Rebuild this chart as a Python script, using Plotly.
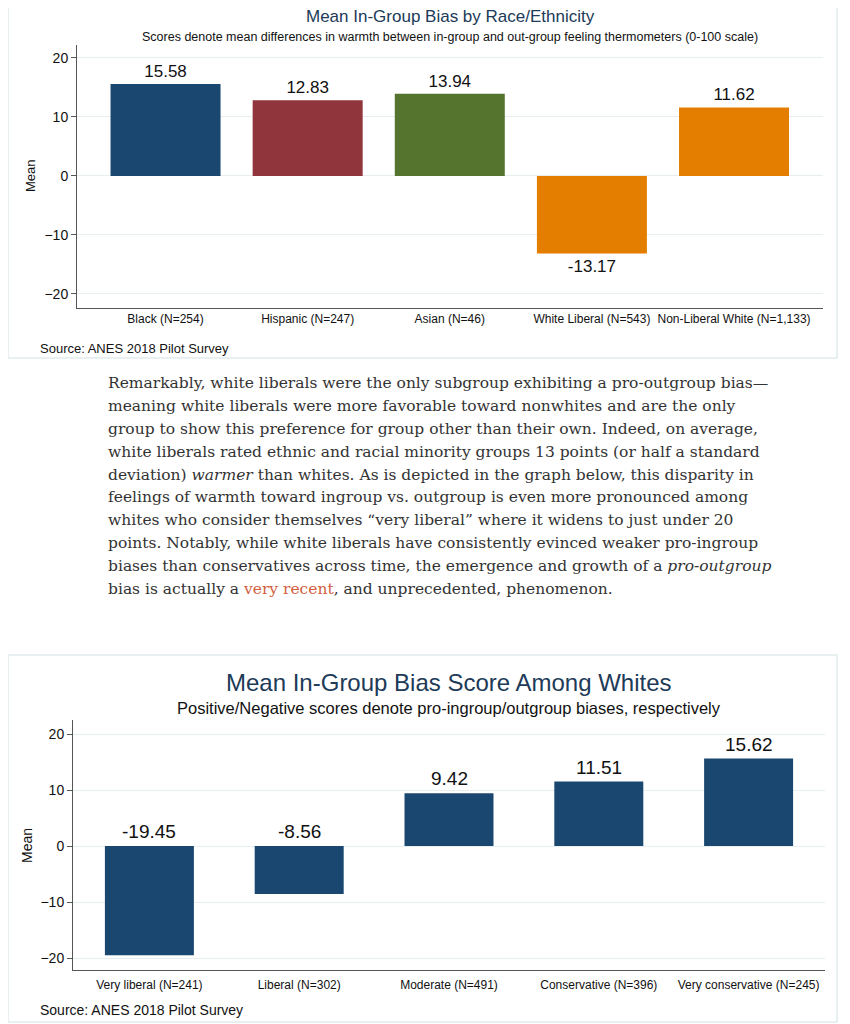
import plotly.graph_objects as go

# the page puts the figure 8px in from the top-left corner
OFF = 8
W, H = 850 - OFF, 1024 - OFF

# ---- data ----
race_groups = ["Black (N=254)", "Hispanic (N=247)", "Asian (N=46)",
               "White Liberal (N=543)", "Non-Liberal White (N=1,133)"]
race_means = [15.58, 12.83, 13.94, -13.17, 11.62]
race_colors = ["#1a476f", "#90353b", "#55752f", "#e37e00", "#e37e00"]

ideo_groups = ["Very liberal (N=241)", "Liberal (N=302)", "Moderate (N=491)",
               "Conservative (N=396)", "Very conservative (N=245)"]
ideo_means = [-19.45, -8.56, 9.42, 11.51, 15.62]

mean_ticks = [-20, -10, 0, 10, 20]

paragraph_lines = [
    "Remarkably, white liberals were the only subgroup exhibiting a pro-outgroup bias—",
    "meaning white liberals were more favorable toward nonwhites and are the only",
    "group to show this preference for group other than their own. Indeed, on average,",
    "white liberals rated ethnic and racial minority groups 13 points (or half a standard",
    "deviation) <i>warmer</i> than whites. As is depicted in the graph below, this disparity in",
    "feelings of warmth toward ingroup vs. outgroup is even more pronounced among",
    "whites who consider themselves “very liberal” where it widens to just under 20",
    "points. Notably, while white liberals have consistently evinced weaker pro-ingroup",
    "biases than conservatives across time, the emergence and growth of a <i>pro-outgroup</i>",
    "bias is actually a <span style='color:#d2603f'>very recent</span>, and unprecedented, phenomenon.",
]

SANS = "Liberation Sans, Arial, sans-serif"
SERIF = "DejaVu Serif, Georgia, serif"
TITLE_COL = "#203a58"
AXIS_COL = "#555555"
GRID_COL = "#e6eef0"


def px(x):
    return (x - OFF) / W


def py(y):
    return 1 - (y - OFF) / H


fig = go.Figure()

# top chart: bias by race/ethnicity
fig.add_trace(go.Bar(
    x=race_groups, y=race_means,
    marker=dict(color=race_colors, line=dict(width=0)),
    width=0.774,
    text=[f"{v:.2f}" for v in race_means],
    textposition="outside",
    textfont=dict(size=17, color="#111111", family=SANS),
    cliponaxis=False,
    xaxis="x", yaxis="y",
))

# bottom chart: bias among whites by ideology
fig.add_trace(go.Bar(
    x=ideo_groups, y=ideo_means,
    marker=dict(color="#1a476f", line=dict(width=0)),
    width=0.594,
    xaxis="x2", yaxis="y2",
))

xcommon = dict(showline=True, linecolor=AXIS_COL, linewidth=1, ticks="",
               showgrid=False, zeroline=False, fixedrange=True,
               tickfont=dict(size=12, color="#111111", family=SANS))
ycommon = dict(tickvals=mean_ticks, ticks="outside", ticklen=5, tickcolor=AXIS_COL,
               showline=True, linecolor=AXIS_COL, linewidth=1,
               showgrid=True, gridcolor=GRID_COL, gridwidth=1, zeroline=False,
               fixedrange=True, tickfont=dict(size=14, color="#111111", family=SANS))

fig.update_layout(
    width=W, height=H,
    margin=dict(l=0, r=0, t=0, b=0),
    paper_bgcolor="white", plot_bgcolor="white",
    showlegend=False,
    font=dict(family=SANS, color="#111111"),
    xaxis=dict(domain=[px(77), px(823)], anchor="y", range=[-0.623, 4.626], **xcommon),
    yaxis=dict(domain=[py(308), py(45)], anchor="x", range=[-22.4, 22.2], **ycommon),
    xaxis2=dict(domain=[px(73), px(825)], anchor="y2", range=[-0.51, 4.51],
                ticklabelstandoff=4, **xcommon),
    yaxis2=dict(domain=[py(970), py(720)], anchor="x2", range=[-22.1, 22.5], **ycommon),
)

# value labels on the bottom chart sit above the bar or above the zero line
for g, v in zip(ideo_groups, ideo_means):
    fig.add_annotation(x=g, y=max(v, 0), xref="x2", yref="y2", text=f"{v:.2f}",
                       showarrow=False, yanchor="bottom", yshift=2,
                       font=dict(size=19, color="#111111", family=SANS))

ann = []
# titles
ann.append(dict(x=px(450), y=py(17), text="Mean In-Group Bias by Race/Ethnicity",
                font=dict(size=17, color=TITLE_COL)))
ann.append(dict(x=px(450), y=py(37),
                text="Scores denote mean differences in warmth between in-group and out-group feeling thermometers (0-100 scale)",
                font=dict(size=12.5, color="#111111")))
ann.append(dict(x=px(449), y=py(682), text="Mean In-Group Bias Score Among Whites",
                font=dict(size=24, color=TITLE_COL)))
ann.append(dict(x=px(449), y=py(708),
                text="Positive/Negative scores denote pro-ingroup/outgroup biases, respectively",
                font=dict(size=16.5, color="#111111")))
# y titles
ann.append(dict(x=px(30), y=py(176), text="Mean", textangle=-90, font=dict(size=13)))
ann.append(dict(x=px(27), y=py(846), text="Mean", textangle=-90, font=dict(size=14)))
# sources
ann.append(dict(x=px(38), y=py(348), text="Source: ANES 2018 Pilot Survey",
                xanchor="left", font=dict(size=13)))
ann.append(dict(x=px(38), y=py(1010), text="Source: ANES 2018 Pilot Survey",
                xanchor="left", font=dict(size=14)))

# article paragraph between the charts
for i, line in enumerate(paragraph_lines):
    ann.append(dict(x=px(106), y=py(383 + i * 22.9), text=line, xanchor="left",
                    font=dict(size=15.5, color="#333333", family=SERIF)))

for a in ann:
    a.setdefault("xanchor", "center")
    fig.add_annotation(xref="paper", yref="paper", showarrow=False, yanchor="middle", **a)

# light frames around each chart
fig.add_shape(type="rect", xref="paper", yref="paper", x0=px(8), x1=px(837), y0=py(358), y1=py(7),
              line=dict(color="#e2ebee", width=1.5))
fig.add_shape(type="rect", xref="paper", yref="paper", x0=px(8), x1=px(837), y0=py(1022), y1=py(655),
              line=dict(color="#e2ebee", width=1.5))

fig.write_html("out.html")
